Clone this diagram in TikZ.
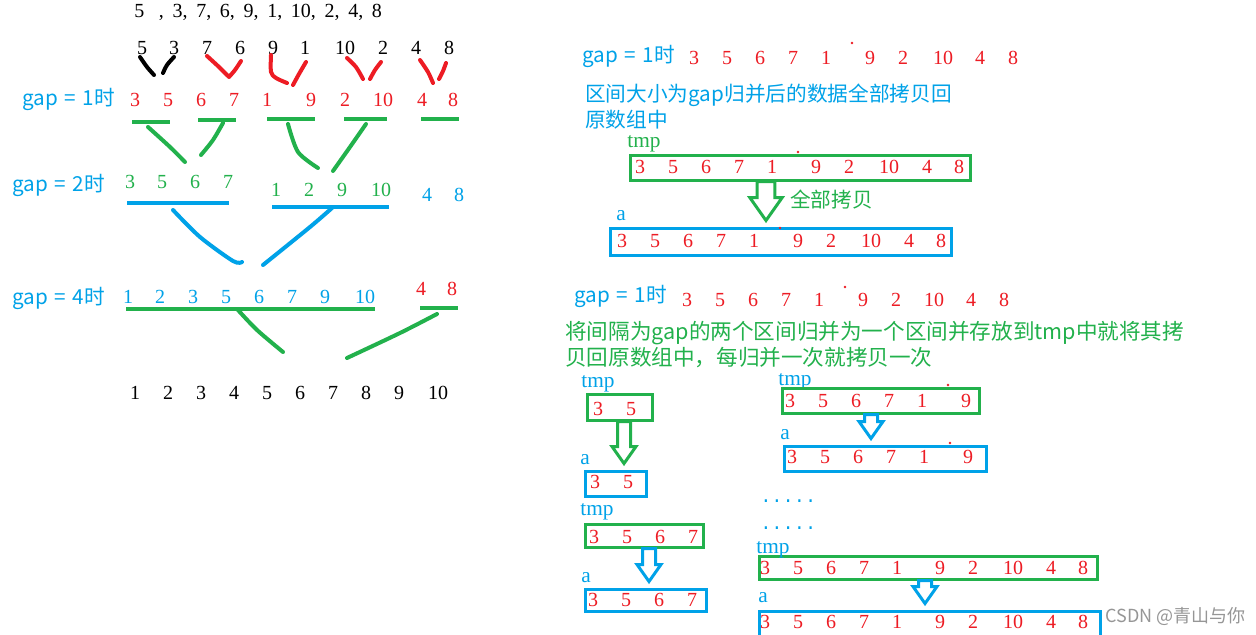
\documentclass[tikz,border=0pt]{standalone}
\usepackage{fontspec}
\setmainfont{Liberation Serif}
\setmonofont{Liberation Mono}
\newfontfamily\cjk{Noto Sans CJK SC}
\usetikzlibrary{calc,fit}

\definecolor{pred}{RGB}{237,28,36}
\definecolor{pgreen}{RGB}{34,177,76}
\definecolor{pblue}{RGB}{0,162,232}
\definecolor{pgray}{RGB}{150,150,150}

% hollow copy arrow: [size] colour, x, from box, to box
\newcommand\copyarrow[5][1]{%
  \coordinate (ct) at (#3,0 |- #4.south);
  \coordinate (cp) at ($(#3,0 |- #5.north)+(0,-6)$);
  \draw[#2,line width=2.25pt]
    ($(ct)+(-6.5*#1,0)$) -- ($(cp)+(-6.5*#1,-17*#1)$) -- ($(cp)+(-12*#1,-17*#1)$)
    -- (cp) -- ($(cp)+(12*#1,-17*#1)$) -- ($(cp)+(6.5*#1,-17*#1)$)
    -- ($(ct)+(6.5*#1,0)$) -- cycle;}
\newcommand\gs{\hspace{6.5pt}}
\newcommand\eqs{\hspace{5pt}=\hspace{5pt}}

\begin{document}
\begin{tikzpicture}[x=0.75pt,y=-0.75pt,
  num/.style={font=\fontsize{15}{18}\selectfont,inner sep=0},
  tag/.style={font=\fontsize{16}{18}\selectfont,inner sep=0,pblue},
  lbl/.style={font=\cjk\fontsize{15.5}{19}\selectfont,inner sep=0,anchor=west},
  box/.style={draw,line width=2.25pt,inner sep=0},
  stroke/.style={line width=3pt,line cap=round,line join=round},
  bar/.style={line width=2.6pt}]
  \useasboundingbox[fill=white] (0,0) rectangle (1256,635);

  % left: merge tree
  \node[num,anchor=west] (seq) at (134,12)
    {5\hspace{11pt},\gs 3,\gs 7,\gs 6,\gs 9,\gs 1,\gs 10,\gs 2,\gs 4,\gs 8};
  \foreach \v/\x [count=\i] in {5/142,3/174,7/207,6/240,9/273,1/305,10/345,2/383,4/416,8/449}
    \node[num] (pr\i) at (\x,48) {\v};
  \draw[stroke] plot[smooth] coordinates {(140,57) (147,67) (154,75)};
  \draw[stroke] plot[smooth] coordinates {(174,57) (167,65) (163,73)};
  \begin{scope}[pred]
    \draw[stroke] plot[smooth] coordinates {(207,56) (219,67) (228,76)};
    \draw[stroke] plot[smooth] coordinates {(241,61) (235,70) (229,77)};
    \draw[stroke] plot[smooth] coordinates {(271,55) (271,72) (276,78) (287,83)};
    \draw[stroke] plot[smooth] coordinates {(306,62) (299,74) (293,85)};
    \draw[stroke] plot[smooth] coordinates {(347,58) (356,67) (363,79)};
    \draw[stroke] plot[smooth] coordinates {(381,62) (375,70) (370,79)};
    \draw[stroke] plot[smooth] coordinates {(420,60) (428,72) (433,83)};
    \draw[stroke] plot[smooth] coordinates {(446,63) (443,71) (439,79)};
  \end{scope}

  \node[lbl,pblue] (gl1) at (22,99) {gap\eqs1时};
  \foreach \v/\x [count=\i] in {3/135,5/168,6/201,7/234,1/267,9/311,2/345,10/383,4/422,8/453}
    \node[num,pred] (ga\i) at (\x,100) {\v};
  \begin{scope}[pgreen]
    \draw[bar] (132,122) -- (170,122);
    \draw[bar] (198,120) -- (236,120);
    \draw[bar] (267,119) -- (315,119);
    \draw[bar] (344,119) -- (387,119);
    \draw[bar] (421,119) -- (459,119);
    \draw[stroke] plot[smooth] coordinates {(148,127) (170,147) (185,162)};
    \draw[stroke] plot[smooth] coordinates {(223,123) (213,140) (201,155)};
    \draw[stroke] plot[smooth] coordinates {(288,124) (298,152) (318,168)};
    \draw[stroke] plot[smooth] coordinates {(366,124) (350,147) (333,171)};
  \end{scope}

  \node[lbl,pblue] (gl2) at (12,185) {gap\eqs2时};
  \foreach \v/\x/\y [count=\i] in {3/130/182,5/162/182,6/195/182,7/228/182,1/276/190,2/309/190,9/342/190,10/381/190}
    \node[num,pgreen] (gb\i) at (\x,\y) {\v};
  \node[num,pblue] (gb9) at (427,195) {4};
  \node[num,pblue] (gb10) at (459,195) {8};
  \begin{scope}[pblue]
    \draw[bar] (127,203) -- (229,203);
    \draw[bar] (272,207) -- (389,207);
    \draw[stroke] plot[smooth] coordinates {(173,210) (200,237) (233,261) (242,262)};
    \draw[stroke] plot[smooth] coordinates {(332,208) (310,227) (263,265)};
  \end{scope}

  \node[lbl,pblue] (gl4) at (12,298) {gap\eqs4时};
  \foreach \v/\x [count=\i] in {1/128,2/160,3/193,5/226,6/259,7/292,9/325,10/365}
    \node[num,pblue] (gc\i) at (\x,297) {\v};
  \node[num,pred] (gc9) at (421,289) {4};
  \node[num,pred] (gc10) at (452,289) {8};
  \begin{scope}[pgreen]
    \draw[bar] (126,309) -- (375,309);
    \draw[bar] (420,308) -- (458,308);
    \draw[stroke] plot[smooth] coordinates {(238,310) (257,330) (283,352)};
    \draw[stroke] plot[smooth] coordinates {(437,314) (400,333) (347,358)};
  \end{scope}
  \foreach \v/\x [count=\i] in {1/135,2/168,3/201,4/234,5/267,6/300,7/333,8/366,9/399,10/438}
    \node[num] (fin\i) at (\x,393) {\v};

  % right: copy back all at once
  \node[lbl,pblue] (gr1) at (582,56) {gap\eqs1时};
  \foreach \v/\x [count=\i] in {3/694,5/727,6/760,7/793,1/826,9/870,2/903,10/943,4/980,8/1013}
    \node[num,pred] (ra\i) at (\x,58) {\v};
  \node[lbl,pblue] (txt1) at (585,95) {区间大小为gap归并后的数据全部拷贝回};
  \node[lbl,pblue] (txt2) at (585,120) {原数组中};
  \node[tag,pgreen] (tmpAl) at (644,144) {tmp};
  \node[box,pgreen,fit={(630,155) (970,180)}] (tmpA) {};
  \foreach \v/\x [count=\i] in {3/640,5/673,6/706,7/739,1/772,9/816,2/849,10/889,4/927,8/959}
    \node[num,pred] (tA\i) at (\x,167) {\v};
  \node[tag] (aAl) at (621,216) {a};
  \node[box,pblue,fit={(610,228) (951,255)}] (aA) {};
  \foreach \v/\x [count=\i] in {3/622,5/655,6/688,7/721,1/754,9/798,2/831,10/871,4/909,8/941}
    \node[num,pred] (aA\i) at (\x,241) {\v};
  \copyarrow[1.35]{pgreen}{766}{tmpA}{aA}
  \node[lbl,pgreen] (allcp) at (790,200) {全部拷贝};

  % right: copy back after each merge
  \node[lbl,pblue] (gr2) at (574,296) {gap\eqs1时};
  \foreach \v/\x [count=\i] in {3/687,5/720,6/753,7/786,1/819,9/863,2/896,10/934,4/971,8/1004}
    \node[num,pred] (rb\i) at (\x,300) {\v};
  \node[lbl,pgreen,font=\cjk\fontsize{16.2}{19}\selectfont] (txt3) at (565,333)
    {将间隔为gap的两个区间归并为一个区间并存放到tmp中就将其拷};
  \node[lbl,pgreen,font=\cjk\fontsize{16.2}{19}\selectfont] (txt4) at (565,358)
    {贝回原数组中，每归并一次就拷贝一次};

  \node[tag] (tmpBl) at (598,384) {tmp};
  \node[box,pgreen,fit={(587,394) (652,420)}] (tmpB) {};
  \node[num,pred] (tB1) at (598,409) {3};
  \node[num,pred] (tB2) at (631,409) {5};
  \node[tag] (aBl) at (585,460) {a};
  \node[box,pblue,fit={(585,471) (646,496)}] (aB) {};
  \node[num,pred] (aB1) at (595,482) {3};
  \node[num,pred] (aB2) at (628,482) {5};
  \copyarrow{pgreen}{624}{tmpB}{aB}

  \node[tag] (tmpCl) at (597,512) {tmp};
  \node[box,pgreen,fit={(585,524) (703,547)}] (tmpC) {};
  \foreach \v/\x [count=\i] in {3/594,5/627,6/660,7/693}
    \node[num,pred] (tC\i) at (\x,537) {\v};
  \node[tag] (aCl) at (586,578) {a};
  \node[box,pblue,fit={(585,589) (706,611)}] (aC) {};
  \foreach \v/\x [count=\i] in {3/593,5/626,6/659,7/692}
    \node[num,pred] (aC\i) at (\x,600) {\v};
  \copyarrow{pblue}{649}{tmpC}{aC}

  \node[tag] (tmpDl) at (795,382) {tmp};
  \node[box,pgreen,fit={(782,388) (979,413)}] (tmpD) {};
  \foreach \v/\x [count=\i] in {3/790,5/823,6/856,7/889,1/922,9/966}
    \node[num,pred] (tD\i) at (\x,401) {\v};
  \node[tag] (aDl) at (785,435) {a};
  \node[box,pblue,fit={(784,446) (986,471)}] (aD) {};
  \foreach \v/\x [count=\i] in {3/792,5/825,6/858,7/891,1/924,9/968}
    \node[num,pred] (aD\i) at (\x,457) {\v};
  \copyarrow{pblue}{871}{tmpD}{aD}

  \node[num,pblue,font=\ttfamily\fontsize{14}{16}\selectfont,anchor=west] (dots1) at (760,501) {.....};
  \node[num,pblue,font=\ttfamily\fontsize{14}{16}\selectfont,anchor=west] (dots2) at (760,528) {.....};

  \node[box,pgreen,fit={(759,556) (1097,579)}] (tmpE) {};
  \node[tag] (tmpEl) at (773,550) {tmp};
  \foreach \v/\x [count=\i] in {3/765,5/798,6/831,7/864,1/897,9/940,2/973,10/1013,4/1051,8/1083}
    \node[num,pred] (tE\i) at (\x,568) {\v};
  \node[tag] (aEl) at (763,598) {a};
  \node[box,pblue,fit={(759,611) (1100,648)}] (aE) {};
  \foreach \v/\x [count=\i] in {3/765,5/798,6/831,7/864,1/897,9/940,2/973,10/1013,4/1051,8/1083}
    \node[num,pred] (aE\i) at (\x,622) {\v};
  \copyarrow{pblue}{925}{tmpE}{aE}

  % stray pen dots
  \foreach \p in {(852,43),(798,152),(780,228),(845,287),(948,385),(950,443)}
    \fill[pred] \p circle (1.3);

  \node[lbl,pgray,font=\cjk\fontsize{13.5}{16}\selectfont] (mark) at (1105,616) {CSDN @青山与你};
\end{tikzpicture}
\end{document}
